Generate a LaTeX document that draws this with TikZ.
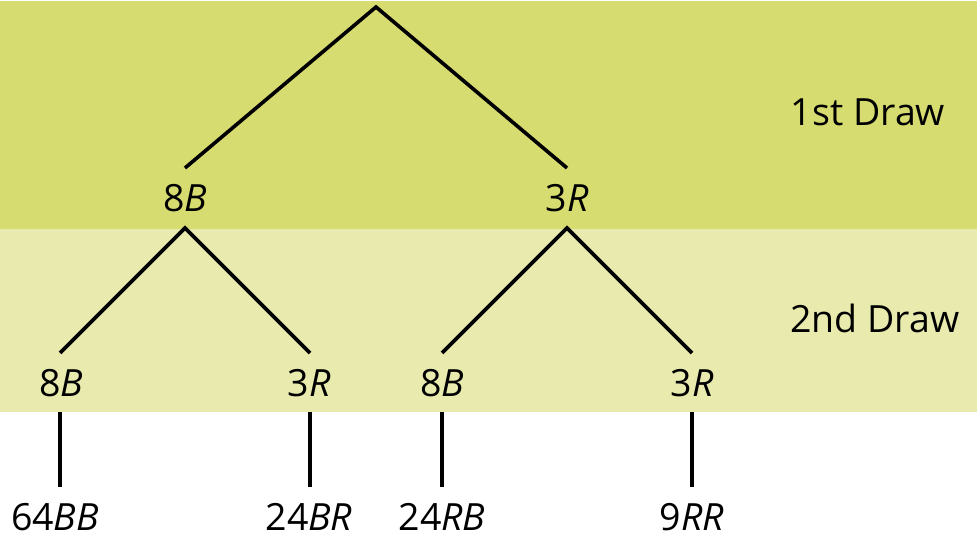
\documentclass[tikz,border=0pt]{standalone}
\usepackage{fontspec}
\setmainfont{Open Sans}
\usetikzlibrary{calc}
\definecolor{bandA}{RGB}{214,220,111}
\definecolor{bandB}{RGB}{232,234,174}
\tikzset{
  lbl/.style={font=\fontsize{37.5}{45}\selectfont, inner sep=0pt},
  branch/.style={line width=3.6pt, line cap=butt, line join=miter}
}
\begin{document}
\begin{tikzpicture}[x=1pt,y=-1pt]
\useasboundingbox (0,0) rectangle (977,545);
\fill[bandA] (0,1) rectangle (977,229);
\fill[bandB] (0,229) rectangle (977,412);
% labels
\node[lbl] (d1) at (868,112) {1st Draw};
\node[lbl] (d2) at (875,318) {2nd Draw};
\coordinate (r) at (376,7);
\node[lbl] (b) at (185,198) {8\textit{B}};
\node[lbl] (R) at (567,198) {3\textit{R}};
\node[lbl] (bb) at (61,383) {8\textit{B}};
\node[lbl] (br) at (309,383) {3\textit{R}};
\node[lbl] (rb) at (442,383) {8\textit{B}};
\node[lbl] (rr) at (692,383) {3\textit{R}};
\node[lbl] (obb) at (55,517) {64\textit{BB}};
\node[lbl] (obr) at (309,517) {24\textit{BR}};
\node[lbl] (orb) at (442,517) {24\textit{RB}};
\node[lbl] (orr) at (692,517) {9\textit{RR}};
% branches
\draw[branch] ($(b)+(0,-30)$) -- (r) -- ($(R)+(0,-30)$);
\draw[branch] ($(bb)+(-1,-30)$) -- ($(b)+(0,30)$) -- ($(br)+(1,-30)$);
\draw[branch] ($(rb)+(0,-30)$) -- ($(R)+(0,30)$) -- ($(rr)+(0,-30)$);
\draw[branch] ($(bb)+(-1,29)$) -- ($(bb)+(-1,104)$);
\draw[branch] ($(br)+(1,29)$) -- ($(br)+(1,104)$);
\draw[branch] ($(rb)+(0,29)$) -- ($(rb)+(0,104)$);
\draw[branch] ($(rr)+(0,29)$) -- ($(rr)+(0,104)$);
\end{tikzpicture}
\end{document}
